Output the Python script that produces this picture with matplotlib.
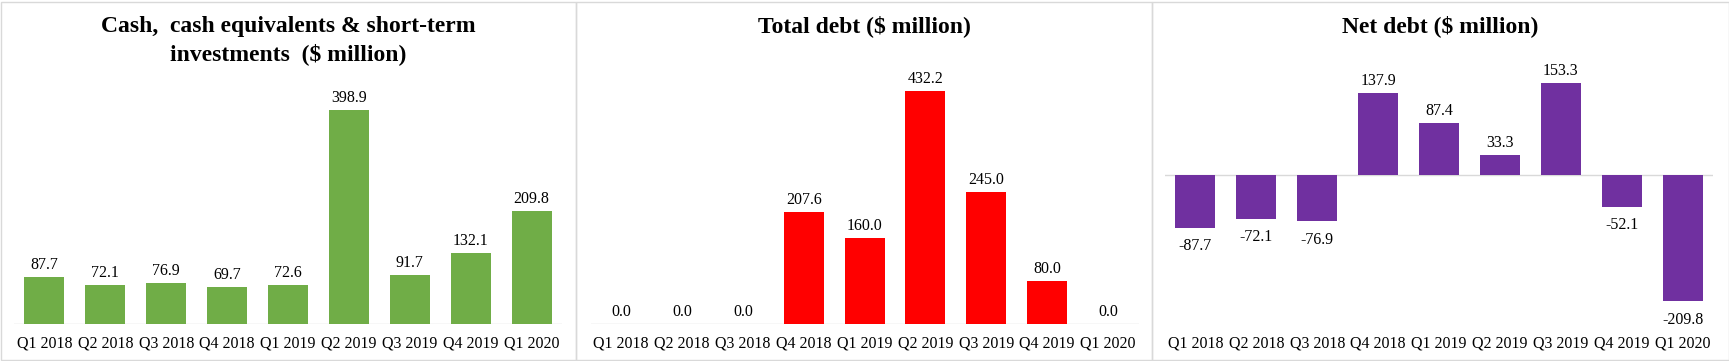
import matplotlib
matplotlib.use("Agg")
import matplotlib.pyplot as plt
from matplotlib.patches import Rectangle

plt.rcParams['font.family'] = ['Liberation Serif', 'DejaVu Serif']

quarters = ["Q1 2018", "Q2 2018", "Q3 2018", "Q4 2018", "Q1 2019",
            "Q2 2019", "Q3 2019", "Q4 2019", "Q1 2020"]
cash = [87.7, 72.1, 76.9, 69.7, 72.6, 398.9, 91.7, 132.1, 209.8]
total_debt = [0.0, 0.0, 0.0, 207.6, 160.0, 432.2, 245.0, 80.0, 0.0]
net_debt = [-87.7, -72.1, -76.9, 137.9, 87.4, 33.3, 153.3, -52.1, -209.8]

titles = [["Cash,  cash equivalents & short-term", "investments  ($ million)"],
          ["Total debt ($ million)"],
          ["Net debt ($ million)"]]
colors = ["#70AD47", "#FF0000", "#7030A0"]

W, H = 1729, 361
fig = plt.figure(figsize=(W / 100, H / 100), dpi=100)
fig.patch.set_facecolor("white")

def rect(left, right, top, bottom):
    return [left / W, 1 - bottom / H, (right - left) / W, (bottom - top) / H]

# panel borders
for x0, x1 in [(0.5, 576), (576, 1152), (1152, 1728.5)]:
    fig.patches.append(Rectangle((x0 / W, 1.5 / H), (x1 - x0) / W, (359.5 - 1.5) / H,
                                 transform=fig.transFigure, fill=False,
                                 edgecolor="#d9d9d9", linewidth=1.0))

panels = [
    dict(data=cash, lr=(14, 562), top=82.3, ylim=(0, 450), cx=288),
    dict(data=total_debt, lr=(590.7, 1138.5), top=64.8, ylim=(0, 480), cx=864),
    dict(data=net_debt, lr=(1165, 1713), top=55.3, ylim=(-247.8, 200), cx=1440),
]

for p, title, color in zip(panels, titles, colors):
    ax = fig.add_axes(rect(p["lr"][0], p["lr"][1], p["top"], 324))
    x = range(len(quarters))
    ax.bar(x, p["data"], width=0.657, color=color, zorder=2)
    ax.set_xlim(-0.5, len(quarters) - 0.5)
    ax.set_ylim(*p["ylim"])
    for s in ax.spines.values():
        s.set_visible(False)
    ax.axhline(0, color="#d9d9d9", linewidth=1.0, zorder=1)
    ax.set_yticks([])
    ax.set_xticks(list(x))
    ax.set_xticklabels(quarters)
    ax.tick_params(axis="x", length=0, pad=8.6, labelsize=11.5)
    ax.set_facecolor("none")
    for i, v in enumerate(p["data"]):
        if v >= 0:
            ax.annotate(f"{v:.1f}", (i, v), xytext=(0, 5.8), textcoords="offset points",
                        ha="center", va="baseline", fontsize=11.5)
        else:
            ax.annotate(f"{v:.1f}", (i, v), xytext=(0, -7.5), textcoords="offset points",
                        ha="center", va="top", fontsize=11.5)
    for k, line in enumerate(title):
        fig.text(p["cx"] / W, 1 - (31.7 + 28.3 * k) / H, line, ha="center", va="baseline",
                 fontsize=17, fontweight="bold")

fig.savefig("out.png", dpi=100, facecolor="white")
